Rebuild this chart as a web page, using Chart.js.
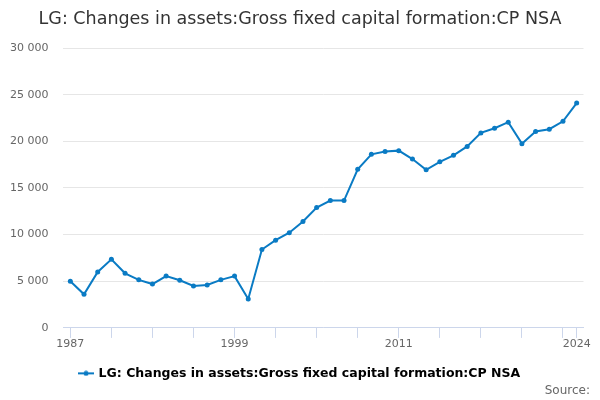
<!DOCTYPE html>
<html>
<head>
<meta charset="utf-8">
<script src="https://cdn.jsdelivr.net/npm/chart.js@4"></script>
<style>
html,body{margin:0;padding:0;background:#fff;}
#wrap{width:600px;height:400px;position:relative;}
</style>
</head>
<body>
<div id="wrap"><canvas id="c"></canvas></div>
<script>
const years = [];
for (let y = 1987; y <= 2024; y++) years.push(String(y));
const values = [5000, 3600, 6000, 7350, 5850, 5150, 4700, 5550, 5100, 4500,
  4600, 5150, 5550, 3100, 8400, 9400, 10200, 11400, 12900, 13650,
  13650, 17000, 18600, 18900, 19000, 18100, 16950, 17800, 18500, 19450,
  20900, 21400, 22050, 19750, 21050, 21300, 22150, 24100];
const yTicks = [0, 5000, 10000, 15000, 20000, 25000, 30000];
const labelYears = ['1987', '1999', '2011', '2024'];
const seriesName = 'LG: Changes in assets:Gross fixed capital formation:CP NSA';

const fmt = v => String(v).replace(/\B(?=(\d{3})+(?!\d))/g, ' ');
const FONT = "'DejaVu Sans', Verdana, sans-serif";
const color = '#0a7bc4';

// legend symbol: a short line with a dot
const sym = document.createElement('canvas');
sym.width = 16; sym.height = 6;
(function () {
  const c = sym.getContext('2d');
  c.strokeStyle = color; c.lineWidth = 2;
  c.beginPath(); c.moveTo(0, 3); c.lineTo(16, 3); c.stroke();
  c.fillStyle = color;
  c.beginPath(); c.arc(8, 3, 2.5, 0, Math.PI * 2); c.fill();
})();

new Chart(document.getElementById('c'), {
  type: 'line',
  data: {
    labels: years,
    datasets: [{
      label: seriesName,
      data: values,
      borderColor: color,
      backgroundColor: color,
      borderWidth: 2,
      pointRadius: 2.5,
      pointBorderWidth: 0,
      pointHoverRadius: 3,
      tension: 0
    }]
  },
  options: {
    responsive: true,
    maintainAspectRatio: false,
    animation: false,
    layout: { padding: { left: 10, right: 10, top: 4, bottom: 2 } },
    plugins: {
      title: {
        display: true,
        text: seriesName,
        color: '#333',
        font: { family: FONT, size: 17.5, weight: 'normal' },
        padding: { top: 5, bottom: 18 }
      },
      subtitle: {
        display: true,
        position: 'bottom',
        align: 'end',
        text: 'Source:',
        color: '#666',
        font: { family: FONT, size: 12, weight: 'normal' },
        padding: { top: -6, bottom: 0 }
      },
      legend: {
        position: 'bottom',
        labels: {
          color: '#333',
          font: { family: FONT, size: 12.5, weight: 'bold' },
          usePointStyle: true,
          pointStyle: sym,
          padding: 3,
          generateLabels: chart => [{
            text: seriesName,
            fillStyle: color,
            strokeStyle: color,
            lineWidth: 0,
            pointStyle: sym,
            datasetIndex: 0
          }]
        }
      },
      tooltip: { enabled: false }
    },
    scales: {
      x: {
        offset: true,
        afterFit: axis => { axis.height += 13; },
        grid: {
          offset: false,
          drawOnChartArea: false,
          drawTicks: true,
          tickLength: 10,
          color: '#ccd6eb'
        },
        border: { color: '#ccd6eb' },
        ticks: {
          autoSkip: false,
          maxRotation: 0,
          color: '#666',
          font: { family: FONT, size: 11 },
          padding: 0,
          callback: function(val, i) {
            if (labelYears.includes(years[i])) return years[i];
            if (i % 3 === 0 || i === years.length - 1) return '';
            return null;
          }
        }
      },
      y: {
        min: 0,
        max: 30000,
        afterFit: axis => { axis.width -= 15; },
        afterBuildTicks: axis => { axis.ticks = yTicks.map(v => ({ value: v })); },
        grid: { color: '#e6e6e6', drawTicks: false },
        border: { display: false },
        ticks: {
          color: '#666',
          font: { family: FONT, size: 11 },
          padding: 15,
          callback: v => fmt(v)
        }
      },
      yRightSpace: {
        type: 'linear',
        position: 'right',
        display: true,
        grid: { display: false, drawTicks: false },
        border: { display: false },
        ticks: { display: false },
        afterFit: axis => { axis.width = 6.5; }
      }
    }
  }
});
</script>
</body>
</html>
